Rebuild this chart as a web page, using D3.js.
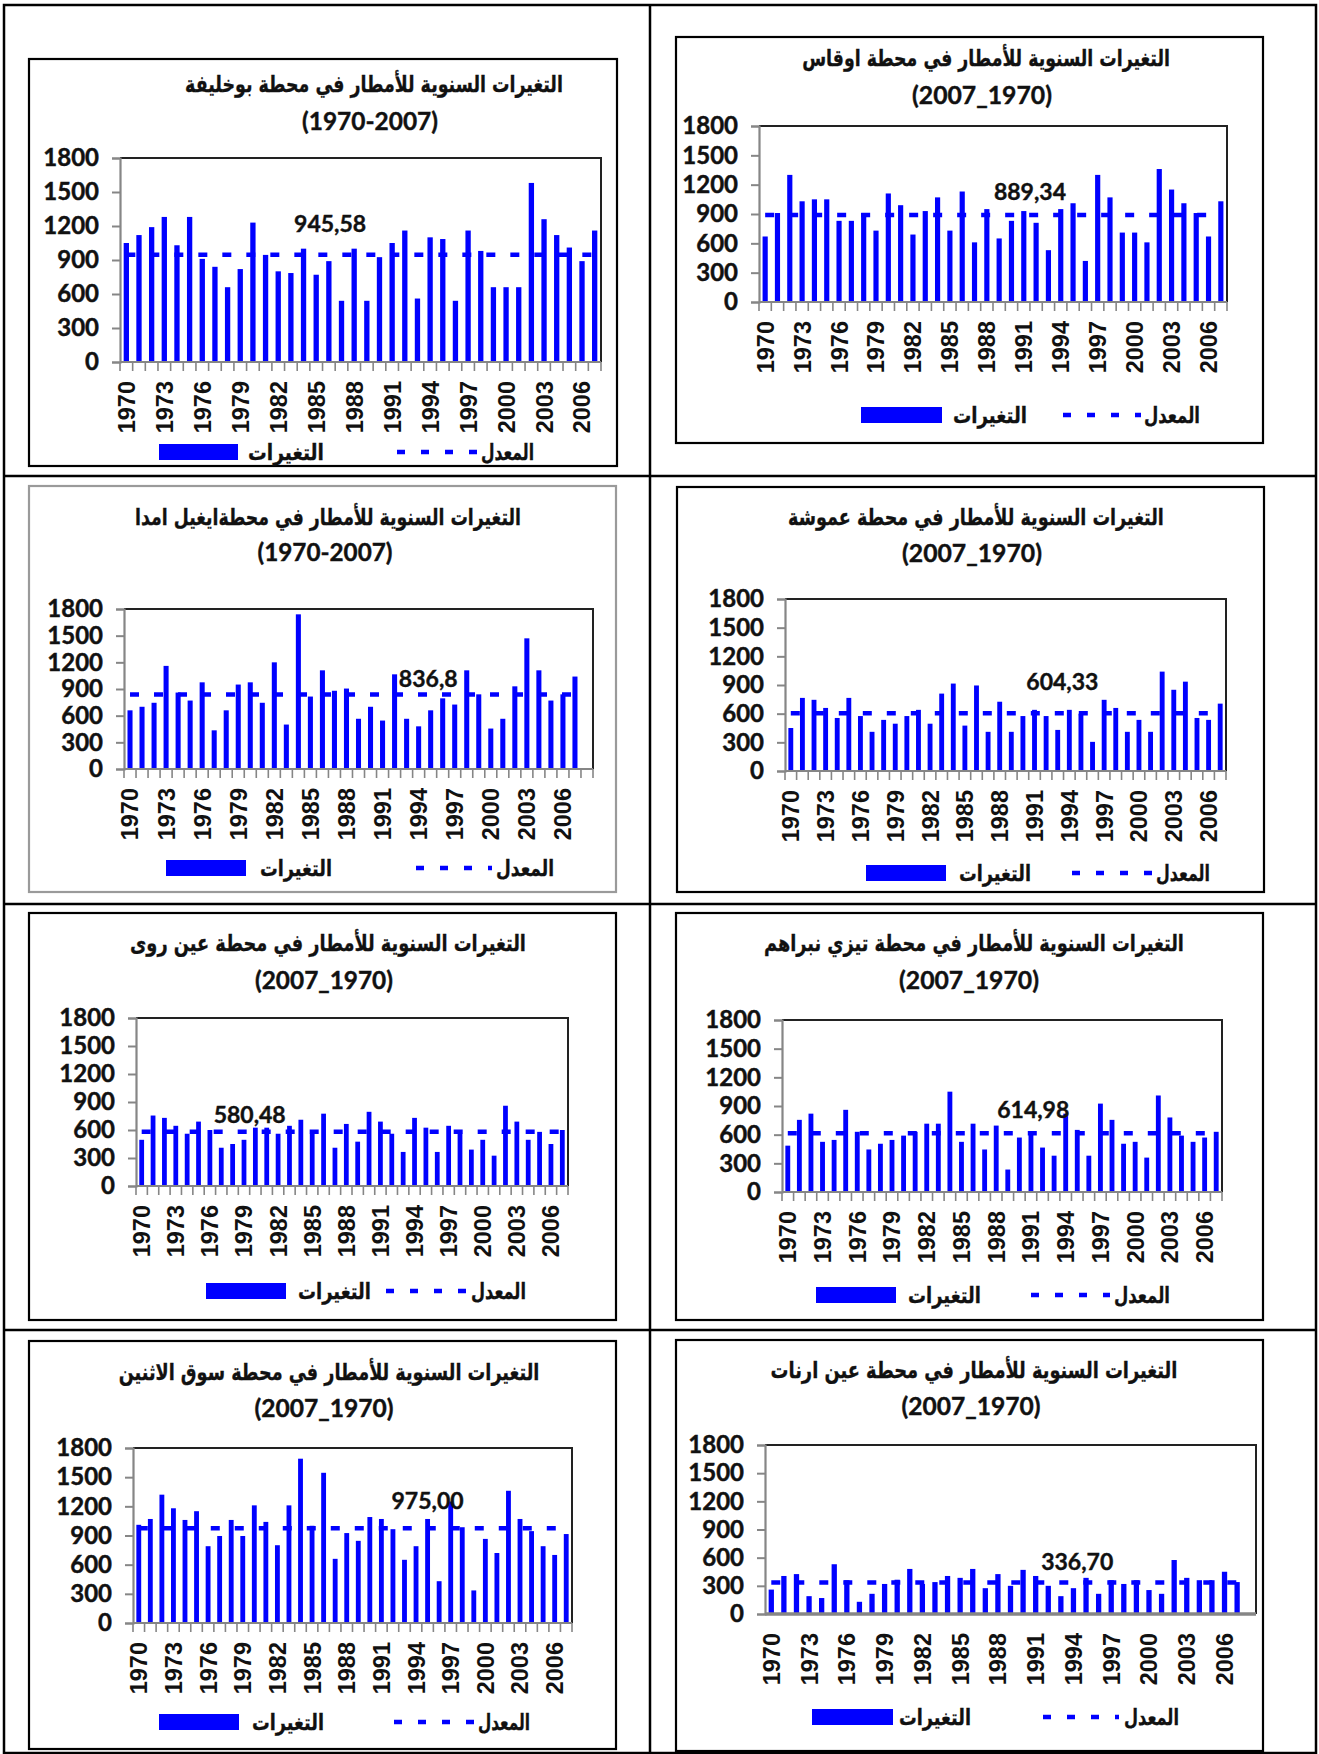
<!DOCTYPE html>
<html>
<head>
<meta charset="utf-8">
<script src="https://cdnjs.cloudflare.com/ajax/libs/d3/7.8.5/d3.min.js"></script>
<style>
  html, body { margin: 0; padding: 0; background: #fff; }
  svg { display: block; }
</style>
</head>
<body>
<svg id="chart" width="1319" height="1754"></svg>
<script>
// ---- categories and tick labels ----
const years = [1970, 1971, 1972, 1973, 1974, 1975, 1976, 1977, 1978, 1979,
               1980, 1981, 1982, 1983, 1984, 1985, 1986, 1987, 1988, 1989,
               1990, 1991, 1992, 1993, 1994, 1995, 1996, 1997, 1998, 1999,
               2000, 2001, 2002, 2003, 2004, 2005, 2006, 2007];
const yearTickLabels = [1970, 1973, 1976, 1979, 1982, 1985, 1988, 1991, 1994, 1997, 2000, 2003, 2006];
const rainTicks = [0, 300, 600, 900, 1200, 1500, 1800];

// ---- annual rainfall (mm) per station ----
const rainBoukhelifa = [1050, 1120, 1190, 1280, 1030, 1280, 910, 840, 660, 820,
                        1230, 945, 800, 785, 1000, 770, 890, 540, 1000, 540,
                        925, 1050, 1160, 560, 1100, 1085, 540, 1160, 980, 660,
                        660, 660, 1580, 1260, 1120, 1010, 890, 1160];
const rainOukas = [670, 910, 1300, 1030, 1050, 1050, 830, 830, 910, 730,
                   1110, 990, 690, 930, 1070, 730, 1130, 610, 950, 650,
                   830, 930, 810, 530, 950, 1010, 420, 1300, 1070, 710,
                   710, 610, 1360, 1150, 1010, 910, 670, 1030];
const rainIghilEmda = [660, 700, 745, 1160, 860, 770, 975, 435, 660, 950,
                       975, 745, 1200, 500, 1740, 815, 1110, 880, 905, 565,
                       700, 545, 1065, 565, 480, 660, 795, 725, 1110, 840,
                       455, 565, 930, 1470, 1110, 770, 840, 1040];
const rainAmoucha = [450, 765, 745, 660, 555, 765, 575, 410, 535, 495,
                     575, 640, 495, 810, 915, 475, 895, 410, 725, 410,
                     575, 640, 575, 430, 640, 600, 305, 745, 660, 410,
                     535, 410, 1040, 850, 935, 555, 535, 705];
const rainAinRoua = [495, 755, 730, 645, 560, 690, 600, 410, 450, 495,
                     625, 625, 560, 645, 710, 560, 775, 410, 665, 475,
                     795, 690, 560, 365, 730, 625, 365, 645, 560, 390,
                     495, 325, 860, 690, 495, 580, 450, 600];
const rainTiziNberhem = [485, 755, 820, 525, 545, 860, 630, 445, 505, 545,
                         590, 630, 715, 715, 1050, 525, 715, 445, 695, 235,
                         570, 630, 465, 380, 820, 650, 380, 925, 755, 505,
                         525, 360, 1010, 780, 590, 525, 570, 630];
const rainSoukElThenine = [1010, 1070, 1320, 1180, 1060, 1150, 790, 895, 1060, 895,
                           1210, 1040, 800, 1210, 1690, 1000, 1545, 660, 925, 845,
                           1090, 1070, 965, 650, 790, 1070, 430, 1250, 985, 335,
                           865, 720, 1360, 1070, 945, 790, 700, 915];
const rainAinArnat = [260, 405, 425, 190, 170, 530, 360, 130, 215, 320,
                      365, 480, 320, 340, 405, 385, 480, 275, 425, 300,
                      470, 405, 300, 190, 275, 385, 215, 360, 320, 360,
                      255, 215, 575, 385, 360, 360, 450, 340];

// ---- station means and their printed labels ----
const stationMeans = [945.58, 889.34, 836.8, 604.33, 580.48, 614.98, 975.00, 336.70];
const meanLabels = ["945,58", "889,34", "836,8", "604,33", "580,48", "614,98", "975,00", "336,70"];

// ---- titles ----
const stationTitles = [
  "التغيرات السنوية للأمطار في محطة بوخليفة",
  "التغيرات السنوية للأمطار في محطة اوقاس",
  "التغيرات السنوية للأمطار في محطةايغيل امدا",
  "التغيرات السنوية للأمطار في محطة عموشة",
  "التغيرات السنوية للأمطار في محطة عين روى",
  "التغيرات السنوية للأمطار في محطة تيزي نبراهم",
  "التغيرات السنوية للأمطار في محطة سوق الاثنين",
  "التغيرات السنوية للأمطار في محطة عين ارنات"
];
const periodLabels = ["(1970-2007)", "(2007_1970)", "(1970-2007)", "(2007_1970)",
                      "(2007_1970)", "(2007_1970)", "(2007_1970)", "(2007_1970)"];
const legendBars = "التغيرات";
const legendMean = "المعدل";

const stationSeries = [rainBoukhelifa, rainOukas, rainIghilEmda, rainAmoucha,
                       rainAinRoua, rainTiziNberhem, rainSoukElThenine, rainAinArnat];

// ---- panel geometry (pixels) ----
const panels = [
  { frame: [29, 59, 617, 466], frameColor: "#000", plot: [120, 158, 601, 362], pad: 0, xTicks: true,
    t1: [374, 84, 378], t2: [370, 121, 136], lbl: [16.1, 31],
    leg: { y: 452, sw: [159, 238], a: [248, 324], dash: [397, 478], b: [481, 534] } },
  { frame: [676, 37, 1263, 443], frameColor: "#000", plot: [759, 126, 1227, 302], pad: 0, xTicks: true,
    t1: [986, 58, 368], t2: [982, 95, 140], lbl: [21.5, 23],
    leg: { y: 415, sw: [861, 942], a: [953, 1027], dash: [1063, 1141], b: [1144, 1200] } },
  { frame: [29, 486, 616, 892], frameColor: "#9a9a9a", plot: [124, 609, 593, 769], pad: 1, xTicks: true,
    t1: [328, 517, 386], t2: [325, 553, 135], lbl: [24.8, 16],
    leg: { y: 868, sw: [166, 246], a: [260, 332], dash: [416, 492], b: [496, 554] } },
  { frame: [677, 487, 1264, 892], frameColor: "#000", plot: [785, 599, 1226, 771], pad: 0, xTicks: true,
    t1: [976, 517, 376], t2: [972, 553, 140], lbl: [23.4, 31],
    leg: { y: 873, sw: [866, 946], a: [959, 1031], dash: [1072, 1152], b: [1156, 1210] } },
  { frame: [29, 913, 616, 1320], frameColor: "#000", plot: [136, 1018, 568, 1186], pad: 0, xTicks: true,
    t1: [328, 943, 396], t2: [324, 980, 138], lbl: [9.5, 17],
    leg: { y: 1291, sw: [206, 286], a: [298, 371], dash: [386, 468], b: [471, 526] } },
  { frame: [676, 913, 1263, 1320], frameColor: "#000", plot: [782, 1020, 1222, 1192], pad: 0, xTicks: true,
    t1: [974, 943, 420], t2: [969, 980, 140], lbl: [21.2, 23],
    leg: { y: 1295, sw: [816, 896], a: [908, 981], dash: [1031, 1110], b: [1114, 1170] } },
  { frame: [29, 1341, 616, 1749], frameColor: "#000", plot: [133, 1448, 572, 1623], pad: 0, xTicks: true,
    t1: [329, 1372, 421], t2: [324, 1408, 139], lbl: [25, 27],
    leg: { y: 1722, sw: [159, 239], a: [252, 324], dash: [394, 475], b: [478, 530] } },
  { frame: [676, 1340, 1263, 1751], frameColor: "#000", plot: [765, 1445, 1256, 1614], pad: 1, xTicks: false,
    t1: [974, 1370, 407], t2: [971, 1406, 139], lbl: [24.3, 20],
    leg: { y: 1717, sw: [812, 893], a: [899, 971], dash: [1043, 1119], b: [1124, 1179] } }
];

const BLUE = "#0000ff";
const AXIS_GREY = "#868686";
const INK = "#111";
const ARABIC_FONT = "'DejaVu Sans', 'Noto Sans', sans-serif";
const NUM_FONT = "Lato, 'Open Sans', sans-serif";
const YEAR_FONT = "'Liberation Sans', Arial, sans-serif";

const svg = d3.select("#chart");

// Scale a text element's font size so that its drawn width equals `target`.
function fitWidth(sel, target) {
  const w = sel.node().getComputedTextLength();
  if (w > 0) {
    const fs = parseFloat(sel.attr("font-size"));
    sel.attr("font-size", (fs * target / w).toFixed(2));
  }
  return sel;
}

// Draw Arabic text at a fixed glyph height, squeezed horizontally to `target` width.
function arabicLabel(parent, cx, cy, str, size, target) {
  const g = parent.append("g");
  const t = g.append("text")
    .attr("x", 0).attr("y", 0).attr("dy", "0.35em")
    .attr("text-anchor", "middle")
    .attr("font-family", ARABIC_FONT).attr("font-weight", "bold").attr("font-size", size)
    .attr("fill", INK).attr("stroke", INK).attr("stroke-width", 0.35)
    .text(str);
  const w = t.node().getComputedTextLength();
  const sx = w > 0 ? target / w : 1;
  g.attr("transform", `translate(${cx},${cy}) scale(${sx.toFixed(4)},1)`);
  return g;
}

// ---- surrounding table ----
const grid = svg.append("g").attr("fill", "none").attr("stroke", "#000").attr("stroke-width", 2.5);
grid.append("rect").attr("x", 4).attr("y", 5).attr("width", 1312).attr("height", 1748);
grid.append("line").attr("x1", 650).attr("x2", 650).attr("y1", 5).attr("y2", 1753);
[476, 904, 1330].forEach(yy => {
  grid.append("line").attr("x1", 4).attr("x2", 1316).attr("y1", yy).attr("y2", yy);
});

function drawPanel(i) {
  const P = panels[i];
  const values = stationSeries[i];
  const mean = stationMeans[i];
  const g = svg.append("g").attr("class", "panel");

  // chart frame
  g.append("rect")
    .attr("x", P.frame[0]).attr("y", P.frame[1])
    .attr("width", P.frame[2] - P.frame[0]).attr("height", P.frame[3] - P.frame[1])
    .attr("fill", "#fff").attr("stroke", P.frameColor).attr("stroke-width", 2.2);

  // titles
  arabicLabel(g, P.t1[0], P.t1[1], stationTitles[i], 23, P.t1[2]);
  const t2 = g.append("text")
    .attr("x", P.t2[0]).attr("y", P.t2[1]).attr("dy", "0.35em")
    .attr("text-anchor", "middle")
    .attr("font-family", NUM_FONT).attr("font-weight", "bold").attr("font-size", 22)
    .attr("fill", INK).attr("stroke", INK).attr("stroke-width", 0.4)
    .text(periodLabels[i]);
  fitWidth(t2, P.t2[2]);

  // scales
  const slots = years.map(String);
  for (let k = 0; k < P.pad; k++) slots.push("pad" + k);
  const x = d3.scaleBand().domain(slots).range([P.plot[0], P.plot[2]]);
  const y = d3.scaleLinear().domain([0, 1800]).range([P.plot[3], P.plot[1]]);
  const bw = x.bandwidth();
  const barW = bw * 0.42;
  const cx = yr => x(String(yr)) + bw / 2;

  // plot area outline (top and right edges dark)
  g.append("path")
    .attr("d", `M${P.plot[0]},${P.plot[1]}H${P.plot[2]}V${P.plot[3]}`)
    .attr("fill", "none").attr("stroke", "#222").attr("stroke-width", 2);

  // bars
  g.append("g").selectAll("rect")
    .data(years.map((yr, k) => ({ yr, v: values[k] })))
    .join("rect")
    .attr("x", d => cx(d.yr) - barW / 2)
    .attr("width", barW)
    .attr("y", d => y(d.v))
    .attr("height", d => y(0) - y(d.v))
    .attr("fill", BLUE);

  // mean line
  g.append("line")
    .attr("x1", cx(years[0])).attr("x2", cx(years[years.length - 1]))
    .attr("y1", y(mean)).attr("y2", y(mean))
    .attr("stroke", BLUE).attr("stroke-width", 4.5)
    .attr("stroke-dasharray", "9,15");

  // mean label
  g.append("text")
    .attr("x", P.plot[0] + (P.lbl[0] + 0.5) * bw)
    .attr("y", y(mean) - P.lbl[1]).attr("dy", "0.35em")
    .attr("text-anchor", "middle")
    .attr("font-family", NUM_FONT).attr("font-weight", "bold").attr("font-size", 23)
    .attr("fill", INK).attr("stroke", INK).attr("stroke-width", 0.4)
    .text(meanLabels[i]);

  // y axis
  const yAxis = g.append("g")
    .attr("transform", `translate(${P.plot[0]},0)`)
    .call(d3.axisLeft(y).tickValues(rainTicks).tickSize(8).tickPadding(13).tickFormat(d3.format("d")));
  yAxis.select(".domain").attr("stroke", AXIS_GREY).attr("stroke-width", 2.2);
  yAxis.selectAll(".tick line").attr("stroke", AXIS_GREY).attr("stroke-width", 2);
  yAxis.selectAll(".tick text")
    .attr("font-family", NUM_FONT).attr("font-weight", "bold").attr("font-size", 24)
    .attr("fill", INK).attr("stroke", INK).attr("stroke-width", 0.45);

  // x axis: baseline, category boundary ticks, rotated year labels
  const xg = g.append("g");
  xg.append("line")
    .attr("x1", P.plot[0]).attr("x2", P.plot[2])
    .attr("y1", y(0)).attr("y2", y(0))
    .attr("stroke", AXIS_GREY).attr("stroke-width", P.xTicks ? 2.2 : 3.5);
  if (P.xTicks) {
    const bounds = slots.map(s => x(s)).concat([P.plot[2]]);
    xg.selectAll("line.tk").data(bounds).join("line").attr("class", "tk")
      .attr("x1", d => d).attr("x2", d => d)
      .attr("y1", y(0)).attr("y2", y(0) + 9)
      .attr("stroke", AXIS_GREY).attr("stroke-width", 1.6);
  }
  xg.selectAll("text.yr").data(yearTickLabels).join("text").attr("class", "yr")
    .attr("transform", d => `translate(${cx(d)},${y(0) + 19}) rotate(-90)`)
    .attr("text-anchor", "end").attr("dy", "0.36em")
    .attr("font-family", YEAR_FONT).attr("font-weight", "bold").attr("font-size", 23.5)
    .attr("fill", INK)
    .text(d => d);

  // legend
  const L = P.leg;
  g.append("rect")
    .attr("x", L.sw[0]).attr("y", L.y - 8)
    .attr("width", L.sw[1] - L.sw[0]).attr("height", 16)
    .attr("fill", BLUE);
  arabicLabel(g, (L.a[0] + L.a[1]) / 2, L.y, legendBars, 22, L.a[1] - L.a[0]);
  g.append("line")
    .attr("x1", L.dash[0]).attr("x2", L.dash[1])
    .attr("y1", L.y).attr("y2", L.y)
    .attr("stroke", BLUE).attr("stroke-width", 4.5)
    .attr("stroke-dasharray", "8,16");
  arabicLabel(g, (L.b[0] + L.b[1]) / 2, L.y, legendMean, 22, L.b[1] - L.b[0]);
}

panels.forEach((_, i) => drawPanel(i));
</script>
</body>
</html>
